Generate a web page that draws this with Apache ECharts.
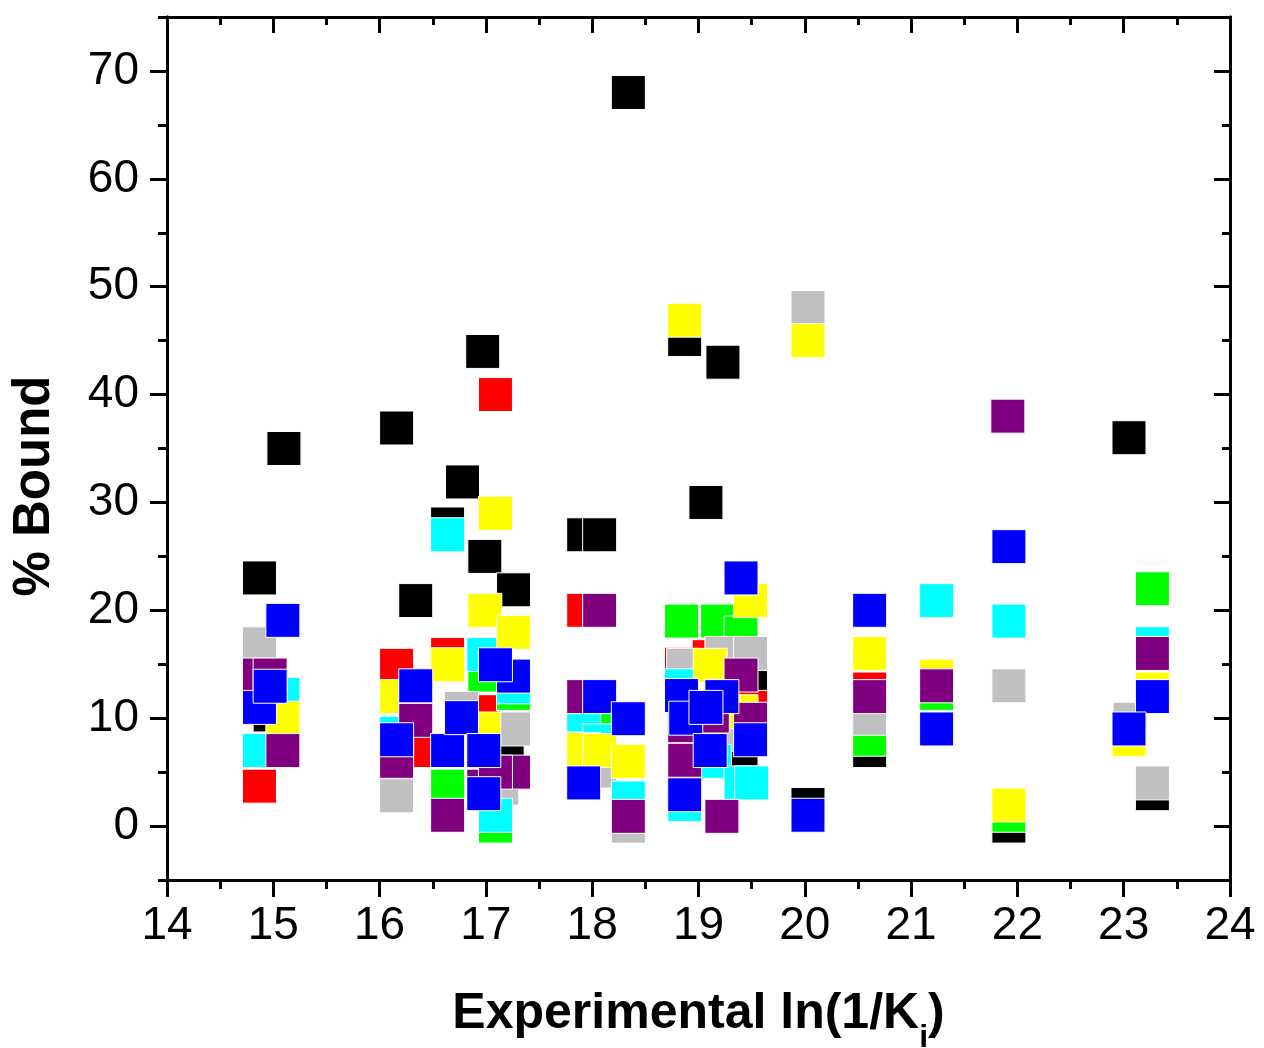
<!DOCTYPE html>
<html>
<head>
<meta charset="utf-8">
<title>% Bound vs Experimental ln(1/Ki)</title>
<script src="https://cdn.jsdelivr.net/npm/echarts@6/dist/echarts.min.js"></script>
<style>
  html, body { margin: 0; padding: 0; background: #fff; }
  #chart { width: 1264px; height: 1048px; }
</style>
</head>
<body>
<div id="chart"></div>
<script>
// groups, drawn in this order (later ones sit on top)
const groupNames = ['black', 'red', 'green', 'gray', 'cyan', 'yellow', 'purple', 'blue'];
const groupColors = ['#000000', '#ff0000', '#00ff00', '#c0c0c0', '#00ffff', '#ffff00', '#800080', '#0000ff'];

// [experimental ln(1/Ki), % bound]
const blackPts = [[14.87, 23.0], [14.97, 10.3], [15.10, 35.0], [16.16, 36.9], [16.34, 20.9], [16.64, 28.0],
  [16.78, 31.9], [16.97, 44.0], [16.99, 25.0], [17.26, 21.9], [17.20, 7.0], [17.92, 27.0], [18.07, 27.0],
  [18.34, 68.0], [18.87, 45.1], [19.07, 30.0], [19.23, 43.0], [19.49, 13.4], [19.40, 6.1], [20.03, 2.0],
  [20.61, 7.0], [21.92, 0.0], [23.05, 36.0], [23.27, 3.0]];
const redPts = [[14.87, 3.7], [16.16, 14.9], [16.34, 7.0], [16.64, 15.9], [16.98, 10.6], [17.09, 40.0],
  [17.92, 20.0], [18.84, 15.0], [19.10, 15.7], [19.49, 11.0], [20.61, 12.7]];
const greenPts = [[16.64, 3.7], [16.99, 14.0], [17.09, 0.0], [17.26, 12.3], [18.07, 9.8], [18.84, 19.0],
  [19.18, 19.0], [19.40, 17.9], [20.61, 8.05], [21.24, 12.3], [21.92, 1.0], [23.27, 22.0]];
const grayPts = [[14.87, 16.9], [16.16, 2.8], [16.77, 10.9], [17.15, 3.5], [17.26, 9.0], [18.07, 5.1],
  [18.34, 0.0], [18.86, 14.9], [19.22, 16.0], [19.33, 8.5], [19.49, 16.0], [20.03, 48.06], [20.61, 10.0],
  [21.92, 13.0], [23.06, 9.9], [23.27, 4.0]];
const cyanPts = [[14.87, 7.0], [15.09, 12.2], [16.16, 8.6], [16.64, 27.0], [16.98, 15.9], [17.09, 1.0],
  [17.26, 12.9], [17.92, 10.3], [18.07, 7.9], [18.34, 2.6], [18.84, 13.0], [18.87, 2.0], [19.15, 6.0],
  [19.40, 4.0], [19.50, 4.0], [21.24, 20.9], [21.92, 19.0], [23.27, 16.9]];
const yellowPts = [[15.09, 10.0], [16.16, 12.0], [16.64, 14.95], [16.98, 9.0], [16.99, 20.0], [17.09, 29.0],
  [17.26, 17.96], [17.92, 7.1], [18.07, 7.0], [18.34, 6.0], [18.87, 46.9], [19.11, 14.9], [19.40, 10.6],
  [19.49, 20.9], [20.03, 45.0], [20.61, 16.0], [21.24, 13.9], [21.92, 1.95], [23.05, 8.0], [23.27, 12.7]];
const purplePts = [[14.87, 14.0], [14.97, 14.0], [15.09, 7.0], [16.16, 6.0], [16.34, 9.8], [16.64, 1.0],
  [16.98, 3.7], [17.26, 5.0], [17.09, 5.0], [17.92, 12.0], [18.07, 20.0], [18.34, 0.9], [18.87, 9.3],
  [18.87, 6.1], [19.13, 10.2], [19.22, 0.9], [19.40, 14.0], [19.49, 9.9], [20.61, 12.0], [21.24, 13.0],
  [21.91, 38.0], [23.27, 16.0]];
const bluePts = [[14.87, 11.0], [14.97, 12.96], [15.09, 19.07], [16.16, 8.0], [16.34, 13.0], [16.64, 7.0],
  [16.77, 10.05], [16.98, 7.0], [16.98, 3.0], [17.26, 13.9], [17.09, 14.95], [17.92, 4.0], [18.07, 12.0],
  [18.34, 9.95], [18.84, 12.1], [19.22, 12.0], [18.88, 10.0], [19.07, 11.0], [19.11, 7.0], [18.87, 2.9],
  [19.40, 23.0], [19.49, 8.0], [20.03, 1.0], [20.61, 20.0], [21.24, 9.0], [21.92, 25.9], [23.27, 12.0],
  [23.05, 9.0]];

const groupData = [blackPts, redPts, greenPts, grayPts, cyanPts, yellowPts, purplePts, bluePts];

// axis ticks
const yMajorTicks = [0, 10, 20, 30, 40, 50, 60, 70];
const yMinorTicks = [-5, 5, 15, 25, 35, 45, 55, 65, 75];

const fontName = '"Liberation Sans", Arial, Helvetica, sans-serif';
const black = '#000';

function yAxisCfg(position, ticks, inside, len, withLabel) {
  return {
    type: 'value',
    position: position,
    min: -5,
    max: 75,
    axisLine: { show: true, onZero: false, lineStyle: { color: black, width: 3 } },
    axisTick: { show: true, inside: inside, length: len, customValues: ticks, lineStyle: { color: black, width: 3 } },
    axisLabel: withLabel
      ? { show: true, customValues: yMajorTicks, margin: 28, color: black, fontSize: 46, fontFamily: fontName }
      : { show: false },
    splitLine: { show: false }
  };
}

let myChart = echarts.init(document.getElementById('chart'));
myChart.setOption({
  animation: false,
  backgroundColor: '#fff',
  grid: { left: 167, right: 34, top: 17, bottom: 168, outerBoundsMode: 'none' },
  xAxis: [
    {
      type: 'value',
      position: 'bottom',
      min: 14,
      max: 24,
      interval: 1,
      name: 'Experimental ln(1/K{sub|i})',
      nameLocation: 'middle',
      nameGap: 94,
      nameTextStyle: {
        color: black,
        fontSize: 50,
        fontWeight: 'bold',
        fontFamily: fontName,
        lineHeight: 80,
        rich: {
          sub: { fontSize: 32, fontWeight: 'bold', fontFamily: fontName, color: black, lineHeight: 32, verticalAlign: 'bottom' }
        }
      },
      axisLine: { show: true, onZero: false, lineStyle: { color: black, width: 3 } },
      axisTick: { show: true, length: 17, lineStyle: { color: black, width: 3 } },
      minorTick: { show: true, splitNumber: 2, length: 9, lineStyle: { color: black, width: 3 } },
      axisLabel: { margin: 23, color: black, fontSize: 46, fontFamily: fontName },
      splitLine: { show: false }
    },
    {
      type: 'value',
      position: 'top',
      min: 14,
      max: 24,
      interval: 1,
      axisLine: { show: true, onZero: false, lineStyle: { color: black, width: 3 } },
      axisTick: { show: true, inside: true, length: 16, lineStyle: { color: black, width: 3 } },
      minorTick: { show: true, splitNumber: 2, length: 8, lineStyle: { color: black, width: 3 } },
      axisLabel: { show: false },
      splitLine: { show: false }
    }
  ],
  yAxis: [
    yAxisCfg('left', yMajorTicks, false, 17, true),
    yAxisCfg('left', yMinorTicks, false, 9, false),
    yAxisCfg('right', yMajorTicks, true, 16, false),
    yAxisCfg('right', yMinorTicks, true, 8, false)
  ],
  graphic: [
    {
      type: 'text',
      x: 35,
      y: 486,
      rotation: Math.PI / 2,
      style: {
        text: '% Bound',
        fill: black,
        font: 'bold 51px ' + fontName,
        align: 'center',
        verticalAlign: 'middle'
      }
    }
  ],
  series: groupNames.map((name, i) => ({
    name: name,
    type: 'scatter',
    xAxisIndex: 0,
    yAxisIndex: 0,
    symbol: 'rect',
    symbolSize: 34,
    itemStyle: { color: groupColors[i], borderColor: '#ffffff', borderWidth: 1, opacity: 1 },
    emphasis: { disabled: true },
    data: groupData[i]
  }))
});
</script>
</body>
</html>
